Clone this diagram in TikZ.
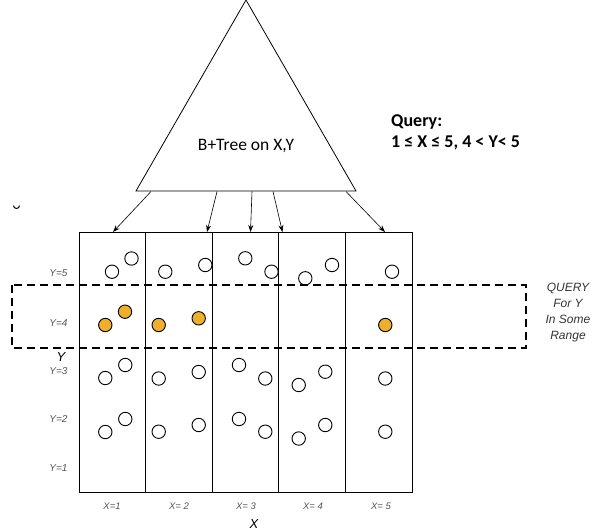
\documentclass[tikz,border=0pt]{standalone}
\usepackage{fontspec}
\setmainfont{Carlito}
\newfontfamily\helv{Liberation Sans}
\usetikzlibrary{arrows.meta}
\definecolor{dotorange}{RGB}{238,176,44}
\definecolor{lblgray}{RGB}{85,85,85}
\tikzset{
  pt/.style={circle,draw=black,line width=0.9pt,minimum size=13.4pt,inner sep=0pt,fill=white},
  hit/.style={pt,fill=dotorange},
  colbox/.style={draw=black,line width=1pt,minimum width=66.6pt,minimum height=260pt,inner sep=0pt},
  ylbl/.style={font=\helv\itshape\fontsize{10}{11}\selectfont,text=lblgray,anchor=east},
  xlbl/.style={font=\helv\itshape\fontsize{9.5}{10}\selectfont,text=lblgray},
  axis/.style={font=\helv\itshape\fontsize{13}{14}\selectfont},
  tarrow/.style={-{Stealth[length=7pt,width=5pt]},line width=0.6pt},
}
\begin{document}
\begin{tikzpicture}[x=1pt,y=-1pt]
\useasboundingbox (0,0) rectangle (595,531);
% triangle
\coordinate (apex) at (246,0);
\coordinate (bl) at (136,191);
\coordinate (br) at (356,191);
\draw[line width=0.8pt] (apex) -- (bl) -- (br) -- cycle;
\node[font=\fontsize{17.5}{20}\selectfont] (tree) at (246,146) {B+Tree on X,Y};
% query text
\node[font=\bfseries\fontsize{18}{21}\selectfont,align=left,anchor=north west,inner sep=0pt] (q) at (391,114) {Query:\\1 ≤ X ≤ 5, 4 < Y< 5};
% columns
\node[colbox] (c1) at (112.3,362) {};
\node[colbox] (c2) at (178.9,362) {};
\node[colbox] (c3) at (245.5,362) {};
\node[colbox] (c4) at (312.1,362) {};
\node[colbox] (c5) at (378.7,362) {};
% arrows
\coordinate (s1) at (151,191.5);
\coordinate (s2) at (217,191.5);
\coordinate (s3) at (252,191.5);
\coordinate (s4) at (273,191.5);
\coordinate (s5) at (346,191.5);
\coordinate (e1) at (113,232);
\coordinate (e2) at (207,232);
\coordinate (e3) at (250.5,232);
\coordinate (e4) at (282.5,232);
\coordinate (e5) at (385,232);
\foreach \i in {1,...,5} {\draw[tarrow] (s\i) -- (e\i);}
% points
\node[pt] (p11) at (131.5,258.5) {};
\node[pt] (p12) at (112,271.7) {};
\node[hit] (h11) at (125,311.7) {};
\node[hit] (h12) at (105.3,325) {};
\node[pt] (p13) at (125.3,365) {};
\node[pt] (p14) at (105.3,378) {};
\node[pt] (p15) at (125.3,419) {};
\node[pt] (p16) at (105.3,432) {};
\node[pt] (p21) at (205.3,265) {};
\node[pt] (p22) at (165.3,271.7) {};
\node[hit] (h21) at (198.7,318.3) {};
\node[hit] (h22) at (158.7,325) {};
\node[pt] (p23) at (198.7,372) {};
\node[pt] (p24) at (158.7,378.5) {};
\node[pt] (p25) at (198.7,425) {};
\node[pt] (p26) at (158.7,431.7) {};
\node[pt] (p31) at (245.3,258.3) {};
\node[pt] (p32) at (271.5,271.7) {};
\node[pt] (p33) at (239,365) {};
\node[pt] (p34) at (265.3,378.5) {};
\node[pt] (p35) at (239,419) {};
\node[pt] (p36) at (265.3,431.7) {};
\node[pt] (p41) at (332,265) {};
\node[pt] (p42) at (305.3,278.3) {};
\node[pt] (p43) at (325.3,371.7) {};
\node[pt] (p44) at (298.7,385) {};
\node[pt] (p45) at (325.3,425) {};
\node[pt] (p46) at (298.7,438.5) {};
\node[pt] (p51) at (392,271.7) {};
\node[hit] (h51) at (385.3,325) {};
\node[pt] (p53) at (385.3,378.5) {};
\node[pt] (p54) at (385.3,431.7) {};
% query box
\draw[line width=1.8pt,dash pattern=on 8pt off 5pt] (12,285) rectangle (526,348);
\node[font=\helv\itshape\fontsize{12}{16}\selectfont,align=center,text=black!80] (qlbl) at (568,313) {QUERY\\For Y\\In Some\\Range};
% labels
\node[ylbl] (y5) at (71,273) {Y=5};
\node[ylbl] (y4) at (71,323) {Y=4};
\node[ylbl] (y3) at (71,371) {Y=3};
\node[ylbl] (y2) at (71,419) {Y=2};
\node[ylbl] (y1) at (71,468) {Y=1};
\node[axis] (yax) at (61,357) {Y};
\node[xlbl] (x1) at (112,506) {X=1};
\node[xlbl] (x2) at (179,506) {X= 2};
\node[xlbl] (x3) at (246,506) {X= 3};
\node[xlbl] (x4) at (313,506) {X= 4};
\node[xlbl] (x5) at (381,506) {X= 5};
\node[axis] (xax) at (254,524) {X};
% stray mark
\draw[line width=1pt] (13.5,205.5) arc[start angle=180,end angle=360,radius=3pt];
\end{tikzpicture}
\end{document}
